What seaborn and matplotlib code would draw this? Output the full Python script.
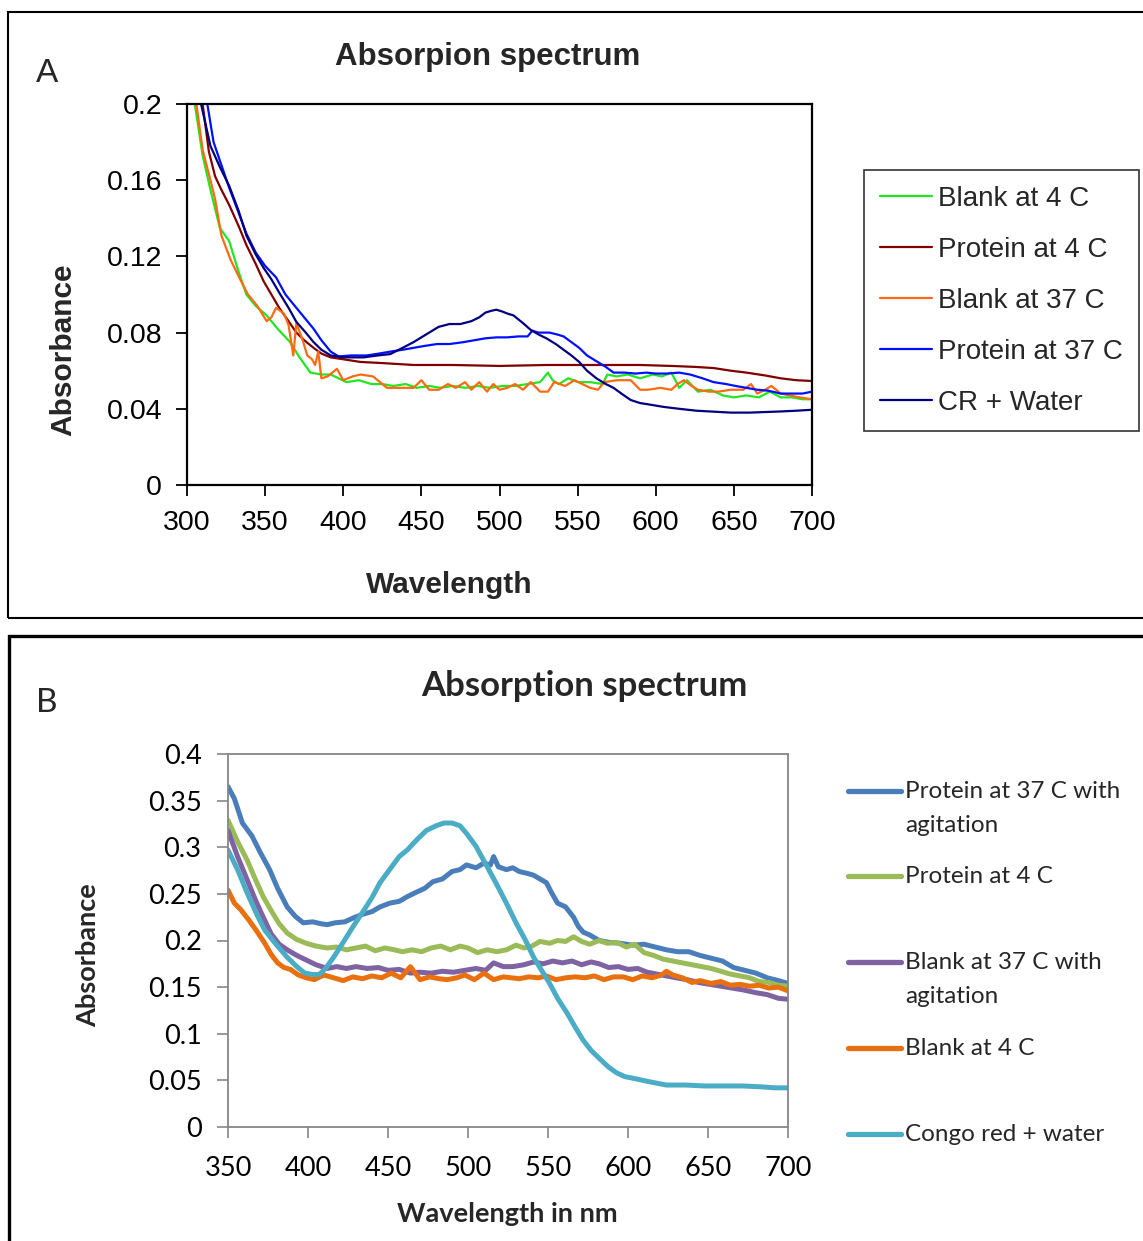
import pandas as pd
import matplotlib
matplotlib.use("Agg")
import matplotlib.pyplot as plt
from matplotlib.lines import Line2D
from matplotlib.patches import Rectangle
from matplotlib.ticker import FuncFormatter
import seaborn as sns

# ---------------- Panel A data ----------------
names_a = ["Blank at 4 C", "Protein at 4 C", "Blank at 37 C", "Protein at 37 C", "CR + Water"]
colors_a = ["#22e622", "#800000", "#ff6a10", "#0010ff", "#000080"]

wl_a_blank4 = [305, 310, 315, 321, 327, 333, 338, 344, 351, 358, 366, 372, 379, 386, 392, 402, 410, 418,
               425, 432, 440, 447, 455, 462, 470, 478, 486, 494, 502, 510, 518, 526, 531, 534, 538, 544,
               550, 558, 566, 569, 575, 582, 590, 598, 604, 610, 615, 620, 627, 635, 643, 650, 658, 666,
               673, 680, 687, 694, 700]
ab_a_blank4 = [0.200, 0.173, 0.155, 0.135, 0.128, 0.112, 0.100, 0.094, 0.089, 0.082, 0.075, 0.067, 0.059,
               0.058, 0.058, 0.054, 0.055, 0.053, 0.053, 0.052, 0.053, 0.051, 0.052, 0.051, 0.052, 0.051,
               0.052, 0.051, 0.052, 0.052, 0.053, 0.054, 0.059, 0.055, 0.053, 0.056, 0.054, 0.054, 0.053,
               0.058, 0.057, 0.058, 0.056, 0.058, 0.057, 0.059, 0.051, 0.055, 0.049, 0.050, 0.047, 0.046,
               0.047, 0.046, 0.049, 0.046, 0.046, 0.045, 0.045]

wl_a_prot4 = [310, 314, 318, 322, 327, 333, 338, 344, 349, 354, 359, 365, 370, 375, 381, 386, 392, 400,
              411, 425, 445, 470, 500, 530, 560, 590, 610, 625, 637, 648, 658, 670, 680, 690, 700]
ab_a_prot4 = [0.200, 0.175, 0.162, 0.155, 0.147, 0.136, 0.126, 0.116, 0.107, 0.100, 0.093, 0.086, 0.080,
              0.076, 0.072, 0.069, 0.067, 0.066, 0.0646, 0.064, 0.063, 0.063, 0.0625, 0.063, 0.063, 0.063,
              0.0625, 0.062, 0.0614, 0.060, 0.059, 0.0575, 0.056, 0.055, 0.0546]

wl_a_blank37 = [306, 310, 315, 318, 322, 328, 334, 339, 345, 351, 354, 357, 362, 365, 368, 370, 374, 377,
                380, 382, 384, 386, 390, 396, 400, 406, 411, 419, 428, 436, 445, 450, 455, 461, 467, 472,
                478, 482, 487, 492, 496, 500, 505, 510, 515, 520, 526, 531, 535, 542, 548, 553, 558, 563,
                567, 575, 584, 590, 595, 603, 610, 614, 618, 623, 627, 634, 640, 648, 656, 661, 665, 670,
                674, 680, 686, 692, 700]
ab_a_blank37 = [0.200, 0.176, 0.160, 0.150, 0.131, 0.118, 0.108, 0.100, 0.094, 0.086, 0.088, 0.093, 0.090,
                0.084, 0.068, 0.085, 0.076, 0.068, 0.066, 0.063, 0.070, 0.056, 0.057, 0.061, 0.055, 0.057,
                0.058, 0.057, 0.051, 0.051, 0.051, 0.055, 0.050, 0.050, 0.053, 0.051, 0.054, 0.050, 0.054,
                0.049, 0.053, 0.050, 0.051, 0.053, 0.050, 0.054, 0.049, 0.049, 0.054, 0.052, 0.055, 0.053,
                0.051, 0.050, 0.054, 0.055, 0.055, 0.050, 0.050, 0.051, 0.050, 0.053, 0.055, 0.052, 0.050,
                0.049, 0.049, 0.050, 0.050, 0.053, 0.048, 0.050, 0.052, 0.048, 0.047, 0.046, 0.045]

wl_a_prot37 = [313, 317, 322, 327, 333, 338, 344, 350, 357, 363, 370, 375, 381, 386, 392, 397, 405, 415,
               423, 430, 438, 445, 452, 460, 468, 477, 484, 491, 498, 505, 512, 518, 521, 525, 532, 537,
               541, 546, 551, 556, 562, 568, 573, 580, 587, 594, 600, 607, 615, 622, 630, 637, 645, 651,
               658, 665, 672, 680, 687, 694, 700]
ab_a_prot37 = [0.200, 0.180, 0.168, 0.156, 0.143, 0.132, 0.122, 0.115, 0.109, 0.100, 0.093, 0.088, 0.082,
               0.076, 0.070, 0.0675, 0.068, 0.068, 0.069, 0.070, 0.071, 0.072, 0.073, 0.074, 0.074, 0.075,
               0.076, 0.077, 0.0775, 0.0775, 0.078, 0.078, 0.081, 0.080, 0.080, 0.079, 0.078, 0.075,
               0.072, 0.068, 0.065, 0.062, 0.059, 0.059, 0.0585, 0.059, 0.0585, 0.0585, 0.059, 0.058,
               0.056, 0.054, 0.053, 0.052, 0.051, 0.050, 0.0495, 0.048, 0.048, 0.048, 0.049]

wl_a_cr = [309, 315, 321, 327, 333, 338, 344, 349, 354, 359, 365, 370, 376, 381, 386, 392, 400, 413, 422,
           430, 438, 445, 453, 461, 468, 475, 482, 487, 491, 495, 498, 502, 505, 509, 515, 520, 525, 530,
           536, 541, 546, 551, 556, 562, 568, 573, 578, 584, 590, 594, 605, 615, 626, 637, 648, 660, 670,
           680, 690, 700]
ab_a_cr = [0.200, 0.178, 0.167, 0.157, 0.144, 0.131, 0.121, 0.114, 0.108, 0.101, 0.093, 0.0856, 0.080,
           0.075, 0.071, 0.068, 0.067, 0.067, 0.068, 0.0687, 0.072, 0.075, 0.079, 0.083, 0.0845, 0.0845,
           0.086, 0.088, 0.0905, 0.0915, 0.092, 0.091, 0.090, 0.089, 0.085, 0.0814, 0.079, 0.077, 0.074,
           0.071, 0.068, 0.0646, 0.060, 0.056, 0.053, 0.051, 0.048, 0.0446, 0.043, 0.0425, 0.041, 0.040,
           0.039, 0.0385, 0.038, 0.038, 0.0383, 0.0386, 0.039, 0.0395]

# ---------------- Panel B data ----------------
names_b = ["Protein at 37 C with\nagitation", "Protein at 4 C", "Blank at 37 C with\nagitation",
           "Blank at 4 C", "Congo red + water"]
colors_b = ["#4a7ebb", "#9bbb59", "#7f62a1", "#e8700f", "#4bacc6"]

wl_b_prot37 = [350, 354, 359, 365, 370, 376, 381, 387, 392, 397, 403, 408, 412, 417, 423, 428, 434, 440,
               445, 451, 457, 462, 468, 473, 478, 484, 490, 495, 499, 505, 510, 514, 516, 519, 524, 528,
               532, 537, 541, 545, 549, 552, 556, 561, 566, 569, 572, 576, 582, 588, 595, 603, 610, 617,
               624, 631, 638, 645, 652, 659, 666, 673, 680, 687, 694, 700]
ab_b_prot37 = [0.365, 0.352, 0.326, 0.312, 0.295, 0.276, 0.256, 0.236, 0.226, 0.219, 0.220, 0.218, 0.217,
               0.219, 0.220, 0.224, 0.228, 0.231, 0.236, 0.240, 0.242, 0.247, 0.252, 0.256, 0.263, 0.266,
               0.274, 0.276, 0.281, 0.278, 0.283, 0.281, 0.290, 0.279, 0.276, 0.278, 0.274, 0.272, 0.270,
               0.266, 0.262, 0.252, 0.240, 0.236, 0.225, 0.215, 0.209, 0.206, 0.200, 0.198, 0.197, 0.195,
               0.196, 0.193, 0.190, 0.188, 0.188, 0.184, 0.181, 0.178, 0.171, 0.168, 0.165, 0.160, 0.157,
               0.154]

wl_b_prot4 = [350, 356, 362, 367, 372, 377, 382, 387, 393, 399, 405, 412, 418, 424, 430, 436, 442, 448,
              454, 459, 465, 471, 477, 483, 489, 495, 500, 506, 512, 518, 524, 530, 535, 540, 545, 551,
              556, 561, 566, 571, 576, 582, 587, 593, 599, 604, 610, 616, 622, 628, 634, 640, 646, 652,
              658, 664, 670, 676, 682, 688, 694, 700]
ab_b_prot4 = [0.329, 0.306, 0.286, 0.266, 0.247, 0.232, 0.218, 0.208, 0.201, 0.197, 0.194, 0.192, 0.193,
              0.190, 0.192, 0.194, 0.189, 0.192, 0.190, 0.188, 0.190, 0.188, 0.192, 0.194, 0.190, 0.194,
              0.192, 0.187, 0.190, 0.188, 0.190, 0.195, 0.192, 0.194, 0.199, 0.197, 0.200, 0.199, 0.204,
              0.199, 0.196, 0.200, 0.197, 0.198, 0.193, 0.196, 0.187, 0.184, 0.180, 0.178, 0.176, 0.174,
              0.172, 0.170, 0.167, 0.164, 0.162, 0.160, 0.156, 0.155, 0.152, 0.151]

wl_b_blank37 = [350, 356, 362, 367, 372, 377, 382, 387, 393, 399, 405, 412, 418, 424, 430, 437, 444, 450,
                457, 464, 470, 477, 484, 491, 498, 505, 511, 516, 522, 528, 535, 541, 547, 553, 559, 565,
                571, 577, 582, 588, 594, 600, 606, 612, 618, 624, 630, 637, 644, 651, 658, 665, 672, 680,
                687, 694, 700]
ab_b_blank37 = [0.318, 0.290, 0.265, 0.244, 0.225, 0.207, 0.196, 0.190, 0.184, 0.179, 0.174, 0.170, 0.172,
                0.170, 0.172, 0.170, 0.171, 0.168, 0.169, 0.165, 0.166, 0.165, 0.167, 0.166, 0.168, 0.170,
                0.168, 0.176, 0.172, 0.172, 0.174, 0.177, 0.175, 0.178, 0.176, 0.178, 0.174, 0.177, 0.175,
                0.171, 0.172, 0.169, 0.170, 0.166, 0.164, 0.162, 0.160, 0.158, 0.155, 0.153, 0.151, 0.149,
                0.147, 0.144, 0.142, 0.138, 0.137]

wl_b_blank4 = [350, 354, 358, 363, 368, 373, 377, 381, 385, 389, 394, 399, 404, 410, 416, 422, 428, 434,
               440, 446, 452, 458, 464, 470, 476, 482, 487, 493, 498, 504, 510, 516, 522, 527, 532, 538,
               544, 549, 555, 561, 567, 573, 579, 585, 591, 597, 603, 609, 615, 621, 624, 628, 634, 640,
               645, 652, 658, 664, 670, 676, 682, 688, 694, 700]
ab_b_blank4 = [0.254, 0.240, 0.233, 0.222, 0.210, 0.197, 0.185, 0.176, 0.171, 0.169, 0.163, 0.160, 0.158,
               0.163, 0.160, 0.157, 0.161, 0.159, 0.162, 0.160, 0.165, 0.160, 0.172, 0.158, 0.161, 0.159,
               0.158, 0.160, 0.163, 0.158, 0.165, 0.158, 0.161, 0.160, 0.159, 0.161, 0.160, 0.162, 0.158,
               0.160, 0.161, 0.160, 0.162, 0.158, 0.161, 0.161, 0.158, 0.162, 0.160, 0.163, 0.167, 0.163,
               0.160, 0.155, 0.157, 0.154, 0.156, 0.152, 0.153, 0.151, 0.152, 0.149, 0.150, 0.146]

wl_b_congo = [350, 356, 362, 368, 373, 380, 387, 393, 398, 403, 407, 411, 416, 422, 428, 434, 440, 445,
              451, 457, 462, 468, 474, 480, 485, 490, 495, 499, 505, 512, 518, 524, 530, 536, 541, 546,
              551, 556, 562, 567, 572, 577, 583, 588, 593, 598, 604, 612, 624, 636, 648, 660, 672, 684,
              692, 700]
ab_b_congo = [0.297, 0.276, 0.251, 0.228, 0.211, 0.196, 0.182, 0.172, 0.165, 0.1635, 0.1635, 0.170, 0.182,
              0.198, 0.2145, 0.230, 0.246, 0.262, 0.276, 0.290, 0.297, 0.308, 0.318, 0.323, 0.326, 0.326,
              0.323, 0.315, 0.301, 0.279, 0.260, 0.240, 0.219, 0.200, 0.182, 0.168, 0.154, 0.138, 0.122,
              0.107, 0.093, 0.082, 0.072, 0.064, 0.058, 0.054, 0.052, 0.049, 0.045, 0.045, 0.044, 0.044,
              0.044, 0.043, 0.042, 0.042]


def long_frame(names, wls, abss):
    parts = []
    for name, wl, ab in zip(names, wls, abss):
        parts.append(pd.DataFrame({"wavelength": wl, "absorbance": ab, "series": name}))
    return pd.concat(parts, ignore_index=True)


df_a = long_frame(names_a, [wl_a_blank4, wl_a_prot4, wl_a_blank37, wl_a_prot37, wl_a_cr],
                  [ab_a_blank4, ab_a_prot4, ab_a_blank37, ab_a_prot37, ab_a_cr])
df_b = long_frame(names_b, [wl_b_prot37, wl_b_prot4, wl_b_blank37, wl_b_blank4, wl_b_congo],
                  [ab_b_prot37, ab_b_prot4, ab_b_blank37, ab_b_blank4, ab_b_congo])

sns.set_style("white")
plt.rcParams['font.family'] = ['Liberation Sans', 'DejaVu Sans']

W, H = 1143, 1241
fig = plt.figure(figsize=(W / 100, H / 100), dpi=100)


def fx(px):
    return px / W


def fy(py):
    return 1 - py / H


fmt = FuncFormatter(lambda v, p: f"{v:g}")

# panel frames
fig.add_artist(Rectangle((fx(8), fy(618)), fx(1160 - 8), (618 - 12) / H, fill=False,
                         lw=1.5, ec="black", transform=fig.transFigure))
fig.add_artist(Rectangle((fx(9), fy(1260)), fx(1160 - 9), (1260 - 636) / H, fill=False,
                         lw=2.4, ec="black", transform=fig.transFigure))

# ---------------- Panel A ----------------
axA = fig.add_axes([fx(187), fy(485), 625 / W, 381 / H])
sns.lineplot(data=df_a, x="wavelength", y="absorbance", hue="series", hue_order=names_a,
             palette=dict(zip(names_a, colors_a)), estimator=None, sort=False,
             linewidth=1.6, ax=axA, legend=False)
axA.set_xlim(300, 700)
axA.set_ylim(0, 0.2)
axA.set_xticks(range(300, 701, 50))
axA.set_yticks([0, 0.04, 0.08, 0.12, 0.16, 0.2])
axA.yaxis.set_major_formatter(fmt)
axA.tick_params(direction="out", length=8, width=1.3, labelsize=20.5, pad=10, colors="black",
                left=True, bottom=True)
for s in axA.spines.values():
    s.set_color("black")
    s.set_linewidth(1.6)
axA.set_xlabel("Wavelength", fontsize=21.5, fontweight="bold")
axA.set_ylabel("Absorbance", fontsize=21.5, fontweight="bold")
axA.xaxis.label.set_va("center")
axA.yaxis.label.set_va("center")
axA.xaxis.set_label_coords(0.419, -0.2625)
axA.yaxis.set_label_coords(-0.198, 0.354)

handles_a = [Line2D([], [], color=c, lw=1.6) for c in colors_a]
leg = axA.legend(handles_a, names_a, loc="upper left", bbox_to_anchor=(fx(864), fy(170)),
                 bbox_transform=fig.transFigure, fontsize=20, frameon=True, fancybox=False,
                 edgecolor="black", borderpad=0.56, labelspacing=0.9, handlelength=1.9,
                 handletextpad=0.22, borderaxespad=0)
leg.get_frame().set_linewidth(1.2)

fig.text(fx(488), fy(57), "Absorpion spectrum", ha="center", va="center", fontsize=22.5,
         fontweight="bold")
fig.text(fx(47), fy(73), "A", ha="center", va="center", fontsize=24)

# ---------------- Panel B ----------------
fam_b = ["Lato", "DejaVu Sans"]
grey = "#868686"
axB = fig.add_axes([fx(228), fy(1127), 560 / W, 373 / H])
sns.lineplot(data=df_b, x="wavelength", y="absorbance", hue="series", hue_order=names_b,
             palette=dict(zip(names_b, colors_b)), estimator=None, sort=False,
             linewidth=3.6, ax=axB, legend=False)
axB.set_xlim(350, 700)
axB.set_ylim(0, 0.4)
axB.set_xticks(range(350, 701, 50))
axB.set_yticks([0, 0.05, 0.1, 0.15, 0.2, 0.25, 0.3, 0.35, 0.4])
axB.yaxis.set_major_formatter(fmt)
axB.tick_params(direction="out", length=8, width=1.2, labelsize=19.5, pad=11, color=grey,
                labelcolor="black", left=True, bottom=True)
axB.tick_params(axis="x", pad=13)
for lab in axB.get_xticklabels() + axB.get_yticklabels():
    lab.set_family(fam_b)
for s in axB.spines.values():
    s.set_color(grey)
    s.set_linewidth(1.3)
axB.set_xlabel("Wavelength in nm", fontsize=19.5, fontweight="bold", family=fam_b)
axB.set_ylabel("Absorbance", fontsize=19.5, fontweight="bold", family=fam_b)
axB.xaxis.label.set_va("center")
axB.yaxis.label.set_va("center")
axB.xaxis.set_label_coords(0.498, -0.233)
axB.yaxis.set_label_coords(-0.25, 0.461)

# legend for panel B (handle sits on the first text row)
leg_rows = [791, 876, 962, 1048, 1134]
for name, c, ly in zip(names_b, colors_b, leg_rows):
    fig.add_artist(Line2D([fx(848), fx(901)], [fy(ly), fy(ly)], color=c, lw=3.8,
                          solid_capstyle="round", transform=fig.transFigure))
    fig.text(fx(905), fy(ly - 10), name, ha="left", va="top", fontsize=17.5, family=fam_b,
             linespacing=1.75)

fig.text(fx(584), fy(686), "Absorption spectrum", ha="center", va="center", fontsize=25,
         fontweight="bold", family=fam_b)
fig.text(fx(47), fy(703), "B", ha="center", va="center", fontsize=24, family=fam_b)

fig.savefig("out.png", dpi=100)
